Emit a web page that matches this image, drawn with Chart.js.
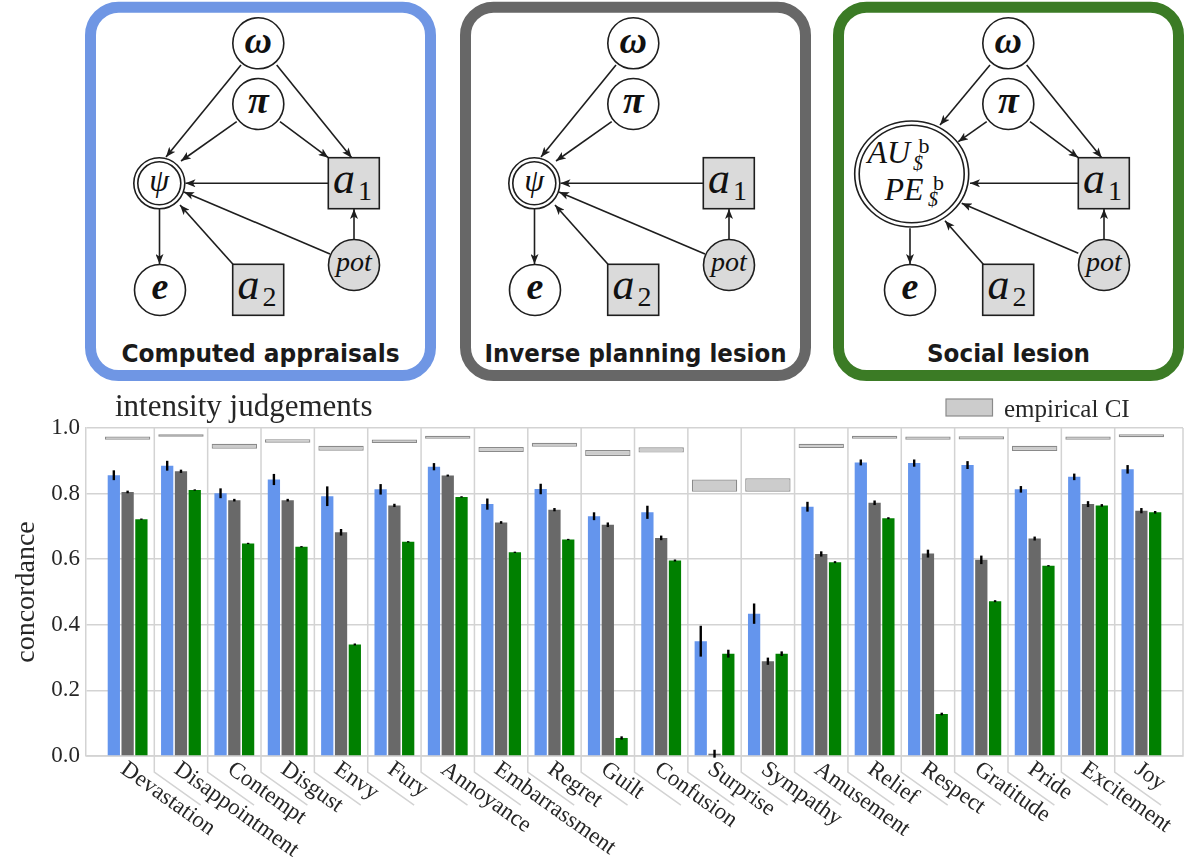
<!DOCTYPE html>
<html>
<head>
<meta charset="utf-8">
<script src="https://cdn.jsdelivr.net/npm/chart.js@4.4.1/dist/chart.umd.min.js"></script>
<style>
  html, body { margin: 0; padding: 0; background: #fff; }
  #page { position: relative; width: 1196px; height: 868px; overflow: hidden; }
  #models { position: absolute; left: 0; top: 0; }
  #chartBox { position: absolute; left: 0; top: 388px; width: 1196px; height: 480px; }
</style>
</head>
<body>
<div id="page">
  <svg id="models" width="1196" height="388" xmlns="http://www.w3.org/2000/svg"></svg>
  <div id="chartBox"><canvas id="concordanceChart" width="1196" height="480"></canvas></div>
</div>
<script>
// categories + values
const emotions = ["Devastation", "Disappointment", "Contempt", "Disgust", "Envy", "Fury", "Annoyance",
  "Embarrassment", "Regret", "Guilt", "Confusion", "Surprise", "Sympathy", "Amusement", "Relief",
  "Respect", "Gratitude", "Pride", "Excitement", "Joy"];

const computedAppraisals = [0.856, 0.885, 0.801, 0.843, 0.792, 0.813, 0.882, 0.768, 0.814, 0.731,
  0.743, 0.350, 0.434, 0.760, 0.895, 0.893, 0.887, 0.813, 0.851, 0.874];
const computedErr = [0.015, 0.015, 0.015, 0.017, 0.030, 0.016, 0.011, 0.017, 0.016, 0.012,
  0.020, 0.047, 0.031, 0.015, 0.009, 0.011, 0.012, 0.010, 0.010, 0.013];

const inversePlanningLesion = [0.805, 0.868, 0.780, 0.780, 0.682, 0.764, 0.855, 0.712, 0.751, 0.705,
  0.665, 0.007, 0.289, 0.616, 0.772, 0.617, 0.598, 0.663, 0.768, 0.748];
const inverseErr = [0.004, 0.005, 0.004, 0.004, 0.010, 0.005, 0.003, 0.004, 0.005, 0.007,
  0.007, 0.012, 0.011, 0.008, 0.007, 0.012, 0.013, 0.006, 0.009, 0.008];

const socialLesion = [0.722, 0.811, 0.648, 0.638, 0.340, 0.653, 0.790, 0.621, 0.660, 0.055,
  0.596, 0.312, 0.312, 0.591, 0.725, 0.128, 0.472, 0.580, 0.764, 0.743];
const socialErr = [0.002, 0.002, 0.002, 0.002, 0.003, 0.002, 0.002, 0.002, 0.002, 0.005,
  0.003, 0.012, 0.007, 0.003, 0.003, 0.004, 0.003, 0.002, 0.004, 0.004];

const ciLow = [0.964, 0.973, 0.937, 0.955, 0.931, 0.954, 0.967, 0.927, 0.943, 0.915,
  0.925, 0.806, 0.806, 0.939, 0.967, 0.964, 0.965, 0.930, 0.964, 0.972];
const ciHigh = [0.974, 0.981, 0.952, 0.966, 0.946, 0.965, 0.976, 0.942, 0.955, 0.933,
  0.941, 0.843, 0.847, 0.952, 0.976, 0.974, 0.975, 0.946, 0.974, 0.981];

const yTicks = [0.0, 0.2, 0.4, 0.6, 0.8, 1.0];

// ---------- graphical model panels (plain svg) ----------
const INK = "#1e1e1e";
const circ = (cx, cy, r, fill) =>
  `<circle cx="${cx}" cy="${cy}" r="${r}" fill="${fill || "#fff"}" stroke="${INK}" stroke-width="1.6"/>`;
const box = (x, y) =>
  `<rect x="${x}" y="${y}" width="51" height="51" fill="#dadada" stroke="${INK}" stroke-width="1.6"/>`;
const edge = (x1, y1, x2, y2) =>
  `<line x1="${x1}" y1="${y1}" x2="${x2}" y2="${y2}" stroke="${INK}" stroke-width="1.6" marker-end="url(#ah)"/>`;
const math = (x, y, size, s, extra) =>
  `<text x="${x}" y="${y}" font-family="Liberation Serif" font-style="italic" font-size="${size}" fill="#111" ${extra || ""}>${s}</text>`;
const sub = (x, y, size, s) =>
  `<text x="${x}" y="${y}" font-family="Liberation Serif" font-size="${size}" fill="#111">${s}</text>`;

function baseNodes() {
  return [
    circ(258.3, 43.3, 25.5), math(258.3, 52.5, 38, "ω", 'font-weight="bold" text-anchor="middle"'),
    circ(258.3, 104, 25.5), math(258.3, 113, 38, "π", 'font-weight="bold" text-anchor="middle"'),
    box(328.3, 157.7), math(333, 192.7, 44, "a"), sub(358, 199.5, 28, "1"),
    circ(354, 265, 25.5, "#dadada"), math(354, 271, 28, "pot", 'text-anchor="middle"'),
    circ(160, 290, 25.5), math(160, 299, 38, "e", 'font-weight="bold" text-anchor="middle"'),
    box(232.7, 264.3), math(237.5, 299.3, 44, "a"), sub(262.5, 306, 28, "2"),
    edge(354, 239.5, 354, 209)
  ].join("");
}
function psiPart() {
  return [
    circ(159.3, 183.3, 25.5), circ(159.3, 183.3, 21.5),
    math(159.3, 191, 32, "ψ", 'text-anchor="middle"'),
    edge(241, 65, 166, 157), edge(236.7, 121.7, 181, 161),
    edge(328.3, 183.3, 185.5, 183.3), edge(330, 254, 184, 192),
    edge(233, 264.3, 180, 205), edge(159.5, 209, 159.5, 264)
  ].join("");
}
function actionArrows() {
  return edge(276.7, 65, 351.7, 157.7) + edge(280, 121.7, 328.3, 157.7);
}
function socialPart() {
  return [
    `<ellipse cx="161.7" cy="174" rx="57" ry="53" fill="#fff" stroke="${INK}" stroke-width="1.6"/>`,
    `<ellipse cx="161.7" cy="174" rx="52.5" ry="48.8" fill="none" stroke="${INK}" stroke-width="1.6"/>`,
    math(117.5, 163.3, 32, "AU"), sub(168.5, 153.3, 22, "b"), math(163, 170, 20, "$"),
    math(134.5, 200, 32, "PE"), sub(183, 190, 22, "b"), math(178, 206, 20, "$"),
    edge(240, 65, 190, 125), edge(236.7, 121.7, 208.3, 141.7),
    edge(328.3, 183.3, 220, 183.3), edge(328.3, 253.3, 211.7, 203.3),
    edge(233.3, 264.3, 195, 220.7), edge(160, 228.3, 160, 264)
  ].join("");
}

const panels = [
  {frame: 0, shift: 0, color: "#6f96e4", title: "Computed appraisals", width: 278,
    body: () => psiPart() + actionArrows()},
  {frame: 375, shift: 375, color: "#676767", title: "Inverse planning lesion", width: 302,
    body: () => psiPart()},
  {frame: 748, shift: 750, color: "#3b7b25", title: "Social lesion", width: 163,
    body: () => socialPart() + actionArrows()}
];

let svg = `<defs><marker id="ah" viewBox="0 0 10 8" refX="10" refY="4" markerWidth="10" markerHeight="8"
  markerUnits="userSpaceOnUse" orient="auto"><path d="M0,0 L10,4 L0,8 L2.5,4 z" fill="${INK}"/></marker></defs>`;
panels.forEach(p => {
  svg += `<rect x="${90.5 + p.frame}" y="7.2" width="340" height="368.3" rx="28" fill="#fff"
    stroke="${p.color}" stroke-width="11"/>`;
  svg += `<g transform="translate(${p.shift},0)">${p.body()}${baseNodes()}</g>`;
  svg += `<text x="${260.5 + p.frame}" y="361.7" font-family="DejaVu Sans" font-weight="bold" font-size="24"
    fill="#1a1a1a" text-anchor="middle" textLength="${p.width}" lengthAdjust="spacingAndGlyphs">${p.title}</text>`;
});
document.getElementById("models").innerHTML = svg;

// ---------- bar chart ----------
const LABEL_ANGLE = 35.5 * Math.PI / 180;
const GRID = "#d3d3d3";

// vertical separators between emotions, bending along the tick labels
const separators = {
  id: "separators",
  beforeDatasetsDraw(chart) {
    const {ctx, chartArea: a, scales: {x}} = chart;
    ctx.save();
    ctx.strokeStyle = GRID;
    ctx.lineWidth = 1.5;
    for (let i = 0; i < emotions.length - 1; i++) {
      const xb = x.getPixelForValue(i + 0.5);
      ctx.beginPath();
      ctx.moveTo(xb, a.top);
      ctx.lineTo(xb, a.bottom + 16);
      ctx.lineTo(xb + 57 * Math.cos(LABEL_ANGLE), a.bottom + 16 + 57 * Math.sin(LABEL_ANGLE));
      ctx.stroke();
    }
    ctx.beginPath();
    ctx.moveTo(a.left, a.bottom);
    ctx.lineTo(a.right, a.bottom);
    ctx.lineTo(a.right, a.top);
    ctx.stroke();
    ctx.restore();
  }
};

const errorBars = {
  id: "errorBars",
  afterDatasetsDraw(chart) {
    const {ctx, scales: {y}} = chart;
    ctx.save();
    ctx.strokeStyle = "#000";
    ctx.lineWidth = 2.4;
    chart.data.datasets.forEach((ds, di) => {
      if (!ds.errors) return;
      chart.getDatasetMeta(di).data.forEach((bar, i) => {
        const v = ds.data[i].y, e = ds.errors[i];
        ctx.beginPath();
        ctx.moveTo(bar.x, y.getPixelForValue(v - e));
        ctx.lineTo(bar.x, y.getPixelForValue(v + e));
        ctx.stroke();
      });
    });
    ctx.restore();
  }
};

const annotations = {
  id: "annotations",
  afterDraw(chart) {
    const {ctx, chartArea: a, scales: {x}} = chart;
    ctx.save();
    ctx.fillStyle = "#262626";
    ctx.font = '23px "Liberation Serif"';
    ctx.textBaseline = "alphabetic";
    emotions.forEach((name, i) => {
      ctx.save();
      ctx.translate(x.getPixelForValue(i) - 8, a.bottom + 16);
      ctx.rotate(LABEL_ANGLE);
      ctx.fillText(name, 0, 0);
      ctx.restore();
    });
    // title
    ctx.font = '31px "Liberation Serif"';
    ctx.fillText("intensity judgements", a.left + 29, a.top - 12);
    // legend for the CI boxes
    const ci = chart.data.datasets[3];
    ctx.fillStyle = ci.backgroundColor;
    ctx.strokeStyle = ci.borderColor;
    ctx.lineWidth = 1.2;
    ctx.fillRect(a.right - 237, a.top - 29, 46.5, 17);
    ctx.strokeRect(a.right - 237, a.top - 29, 46.5, 17);
    ctx.fillStyle = "#262626";
    ctx.font = '25px "Liberation Serif"';
    ctx.fillText(ci.label, a.right - 179, a.top - 11);
    ctx.restore();
  }
};

const asPoints = arr => arr.map((v, i) => ({x: i, y: v}));

new Chart(document.getElementById("concordanceChart"), {
  type: "bar",
  data: {
    datasets: [
      {label: "Computed appraisals", data: asPoints(computedAppraisals), errors: computedErr,
        backgroundColor: "#6495ed"},
      {label: "Inverse planning lesion", data: asPoints(inversePlanningLesion), errors: inverseErr,
        backgroundColor: "#696969"},
      {label: "Social lesion", data: asPoints(socialLesion), errors: socialErr,
        backgroundColor: "#008000"},
      {label: "empirical CI", data: ciLow.map((lo, i) => ({x: i, y: [lo, ciHigh[i]]})),
        grouped: false, categoryPercentage: 1, barPercentage: 0.85,
        backgroundColor: "#cccccc", borderColor: "#8a8a8a", borderWidth: 1.2, borderSkipped: false}
    ]
  },
  options: {
    responsive: false,
    animation: false,
    categoryPercentage: 0.775,
    barPercentage: 0.89,
    layout: {padding: {top: 40, right: 13, bottom: 112, left: 0}},
    plugins: {legend: {display: false}, tooltip: {enabled: false}},
    scales: {
      x: {
        type: "linear",
        display: false,
        offset: false,
        min: -0.78,
        max: emotions.length - 1 + 0.78
      },
      y: {
        min: 0,
        max: 1,
        afterBuildTicks: (scale) => { scale.ticks = yTicks.map(v => ({value: v})); },
        afterFit: (scale) => { scale.width = 86; },
        grid: {color: GRID, lineWidth: 1.5, drawTicks: false},
        border: {color: GRID, width: 1.5},
        ticks: {
          padding: 6,
          color: "#262626",
          font: {family: "Liberation Serif", size: 23},
          callback: (v) => Number(v).toFixed(1)
        },
        title: {
          display: true,
          text: "concordance",
          color: "#262626",
          padding: {top: 10, bottom: 0},
          font: {family: "Liberation Serif", size: 28}
        }
      }
    }
  },
  plugins: [separators, errorBars, annotations]
});
</script>
</body>
</html>
